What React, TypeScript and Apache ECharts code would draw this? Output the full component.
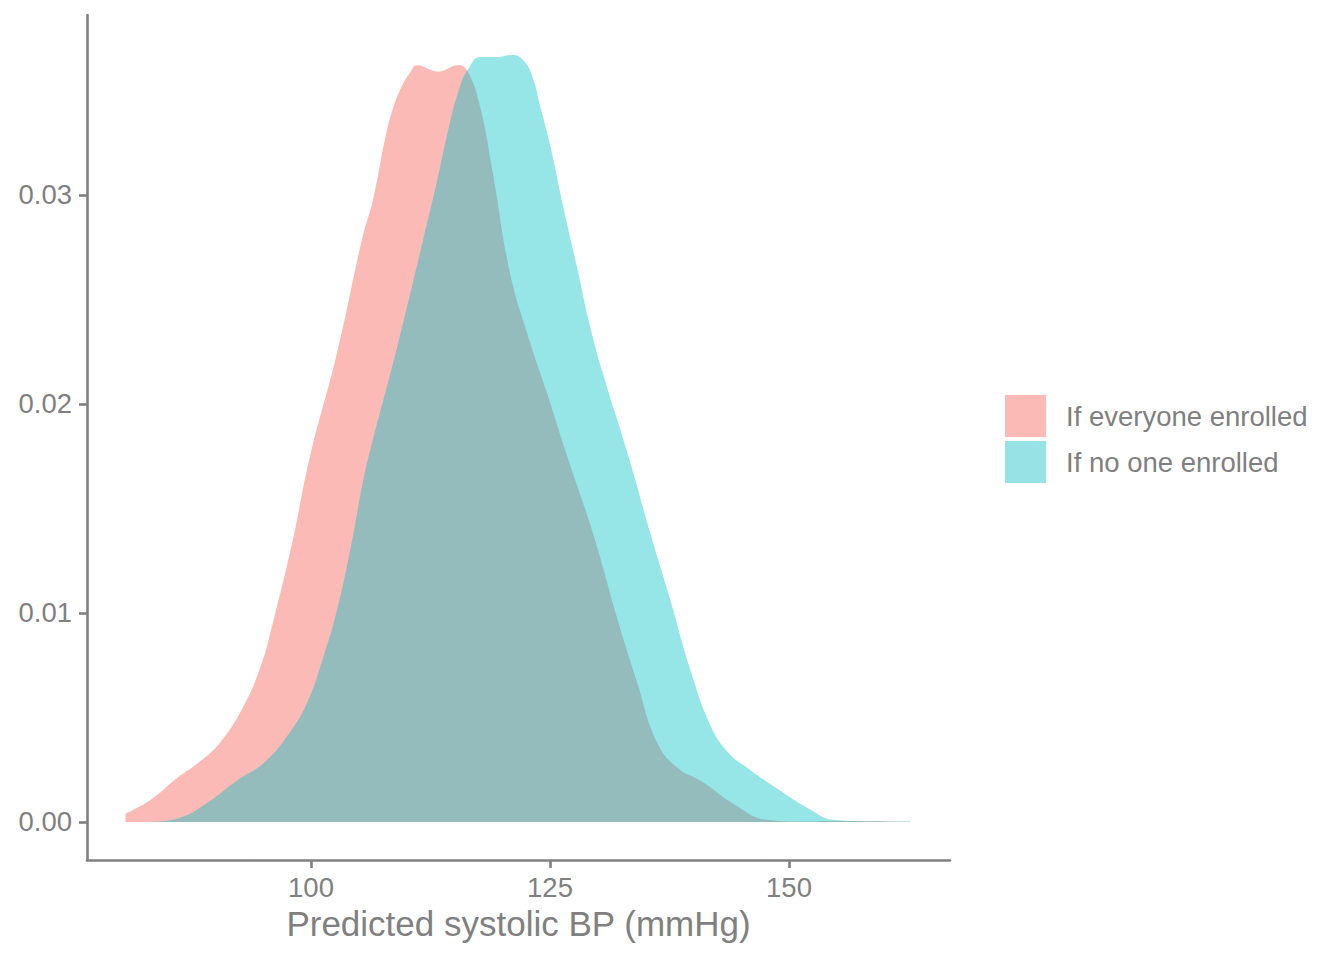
import React, { useEffect, useRef } from "react";
import * as echarts from "echarts";

// density curves (x = predicted systolic BP, y = density)
const everyoneX = [
  80.6, 83.2, 86.0, 88.4, 90.5, 92.9, 94.7, 96.0, 98.1, 99.9, 102.7, 105.4, 106.5, 107.9,
  108.7, 109.5, 110.3, 111.1, 113.3, 115.4, 116.4, 117.7, 119.0, 120.8, 122.6, 124.7, 126.8,
  129.5, 132.0, 134.1, 136.2, 138.3, 141.0, 144.1, 147.7, 151.0, 155.0, 159.0, 162.7,
];
const everyoneY = [
  0.0004, 0.00105, 0.0021, 0.0029, 0.0038, 0.0055, 0.0074, 0.0095, 0.0135, 0.0175, 0.0224,
  0.028, 0.0298, 0.033, 0.0343, 0.0352, 0.0358, 0.0362, 0.0359, 0.0362, 0.0359, 0.0342,
  0.0311, 0.0263, 0.0234, 0.0205, 0.0175, 0.0138, 0.0098, 0.0067, 0.0038, 0.0026, 0.0019,
  0.0009, 0.0001, 0.00002, 0.00005, 0.00004, 0.00001,
];

const nooneX = [
  83.2, 86.3, 89.1, 92.3, 95.0, 97.5, 99.6, 101.3, 102.7, 104.1, 105.4, 106.2, 109.0, 111.7,
  113.2, 114.5, 115.6, 116.4, 117.7, 119.4, 121.1, 122.3, 123.2, 124.0, 125.0, 126.4, 127.8,
  129.2, 130.5, 133.2, 135.5, 137.6, 139.6, 141.7, 143.5, 145.9, 149.4, 152.2, 154.6, 158.0,
  162.7,
];
const nooneY = [
  0.0, 0.0002, 0.0009, 0.002, 0.0028, 0.0041, 0.0057, 0.0079, 0.0101, 0.013, 0.0162, 0.0178,
  0.0227, 0.0278, 0.0307, 0.0334, 0.0352, 0.036, 0.0366, 0.0366, 0.0367, 0.0364, 0.0356,
  0.0342, 0.0324, 0.0294, 0.0266, 0.0237, 0.0215, 0.0175, 0.0138, 0.0106, 0.0074, 0.0047,
  0.0034, 0.0025, 0.0014, 0.0006, 0.0001, 0.00003, 0.00002,
];

const groupNames = ["If everyone enrolled", "If no one enrolled"];
const xTicks = [100, 125, 150];
const yTicks = [0, 0.01, 0.02, 0.03];

const grey = "#808080";
const font = "'Liberation Sans', Arial, sans-serif";

const pairs = (xs: number[], ys: number[]) => xs.map((x, i) => [x, ys[i]]);

const App = () => {
  const chartRef = useRef<HTMLDivElement>(null);

  useEffect(() => {
    if (!chartRef.current) return;
    const chart = echarts.init(chartRef.current, null, { renderer: "svg" });

    const axisCommon = {
      type: "value",
      axisLine: { show: true, onZero: false, lineStyle: { color: grey, width: 2.6 } },
      axisTick: { show: true, length: 8, lineStyle: { color: grey, width: 2.6 } },
      splitLine: { show: false },
    };

    chart.setOption({
      animation: false,
      backgroundColor: "#ffffff",
      textStyle: { fontFamily: font },
      grid: { left: 87, right: 394, top: 15, bottom: 100, containLabel: false },
      xAxis: {
        ...axisCommon,
        min: 76.57,
        max: 166.84,
        axisTick: { ...axisCommon.axisTick, customValues: xTicks },
        axisLabel: {
          customValues: xTicks,
          color: grey,
          fontSize: 27.5,
          fontFamily: font,
          margin: 13,
        },
        name: "Predicted systolic BP (mmHg)",
        nameLocation: "middle",
        nameGap: 46,
        nameTextStyle: { color: grey, fontSize: 35, fontFamily: font },
      },
      yAxis: {
        ...axisCommon,
        min: -0.00182,
        max: 0.03861,
        axisTick: { ...axisCommon.axisTick, customValues: yTicks },
        axisLabel: {
          customValues: yTicks,
          color: grey,
          fontSize: 27.5,
          fontFamily: font,
          margin: 15,
          formatter: (v: number) => v.toFixed(2),
        },
      },
      legend: {
        orient: "vertical",
        left: 1005,
        top: 395,
        padding: 0,
        itemGap: 4,
        itemWidth: 41,
        itemHeight: 42,
        icon: "rect",
        textStyle: { color: grey, fontSize: 27.5, fontFamily: font, padding: [0, 0, 0, 15] },
        data: [
          { name: groupNames[0], itemStyle: { color: "#FBBAB6" } },
          { name: groupNames[1], itemStyle: { color: "#96E2E4" } },
        ],
      },
      series: [
        {
          name: groupNames[0],
          type: "line",
          data: pairs(everyoneX, everyoneY),
          smooth: 0.45,
          showSymbol: false,
          itemStyle: { color: "#FBBAB6" },
          lineStyle: { width: 0, opacity: 0 },
          areaStyle: { color: "rgb(248,118,109)", opacity: 0.5 },
        },
        {
          name: groupNames[1],
          type: "line",
          data: pairs(nooneX, nooneY),
          smooth: 0.45,
          showSymbol: false,
          itemStyle: { color: "#96E2E4" },
          lineStyle: { width: 0, opacity: 0 },
          areaStyle: { color: "rgb(0,191,196)", opacity: 0.41 },
        },
      ],
    });

    return () => {
      chart.dispose();
    };
  }, []);

  return (
    <div
      ref={chartRef}
      style={{ position: "absolute", left: 0, top: 0, width: "1344px", height: "960px" }}
    />
  );
};

export default App;
